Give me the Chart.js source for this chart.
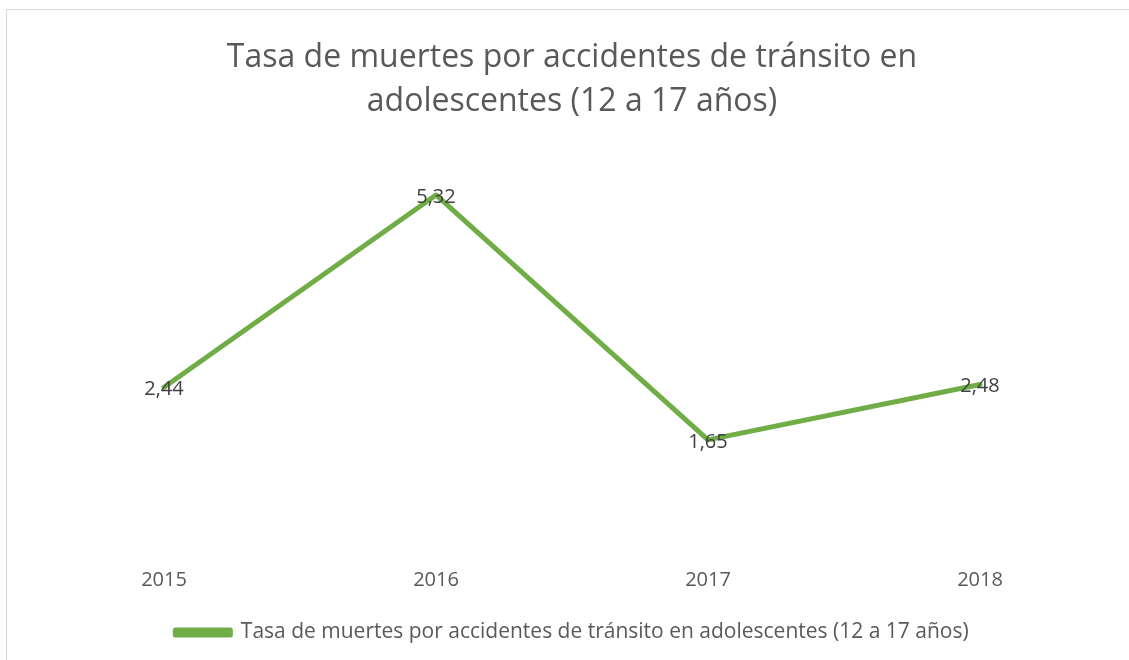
<!DOCTYPE html>
<html>
<head>
<meta charset="utf-8">
<script src="https://cdn.jsdelivr.net/npm/chart.js@4/dist/chart.umd.min.js"></script>
<style>
  html, body { margin: 0; padding: 0; background: #fff; }
  #wrap { position: absolute; left: 6px; top: 9px; width: 1123px; height: 651px;
          border-left: 1px solid #d9d9d9; border-top: 1px solid #d9d9d9; box-sizing: border-box; }
  canvas { position: absolute; left: 0; top: 0; }
</style>
</head>
<body>
<div id="wrap"><canvas id="grafik"></canvas></div>
<script>
const years = ["2015", "2016", "2017", "2018"];
const tasa = [2.44, 5.32, 1.65, 2.48];
const serieNombre = "Tasa de muertes por accidentes de tránsito en adolescentes (12 a 17 años)";
const tituloLineas = ["Tasa de muertes por accidentes de tránsito en", "adolescentes (12 a 17 años)"];

const fuente = "'Open Sans', 'Noto Sans', sans-serif";

// etiquetas de valor sobre cada punto (coma decimal)
const etiquetaValor = {
  id: "etiquetaValor",
  afterDatasetsDraw(chart) {
    const ctx = chart.ctx;
    const meta = chart.getDatasetMeta(0);
    ctx.save();
    ctx.font = "20px " + fuente;
    ctx.fillStyle = "#404040";
    ctx.textAlign = "center";
    ctx.textBaseline = "middle";
    meta.data.forEach((pt, i) => {
      const txt = tasa[i].toFixed(2).replace(".", ",");
      ctx.fillText(txt, pt.x, pt.y + 2);
    });
    ctx.restore();
  },
};

const canvas = document.getElementById("grafik");
canvas.width = 1122;
canvas.height = 650;

new Chart(canvas.getContext("2d"), {
  type: "line",
  data: {
    labels: years,
    datasets: [{
      label: serieNombre,
      data: tasa,
      borderColor: "#70ad47",
      backgroundColor: "#70ad47",
      borderWidth: 5,
      pointRadius: 0,
      tension: 0,
      borderCapStyle: "round",
      borderJoinStyle: "round",
    }],
  },
  options: {
    responsive: false,
    animation: false,
    layout: { padding: { left: 21, right: 13, top: 0, bottom: 7 } },
    plugins: {
      title: {
        display: true,
        text: tituloLineas,
        color: "#595959",
        font: { family: fuente, size: 32, weight: "normal", lineHeight: 1.4 },
        padding: { top: 25, bottom: 25 },
      },
      legend: {
        position: "bottom",
        labels: {
          color: "#595959",
          font: { family: fuente, size: 21 },
          boxWidth: 55,
          boxHeight: 5,
          padding: 20,
        },
      },
      tooltip: { enabled: false },
    },
    scales: {
      x: {
        offset: true,
        grid: { display: false },
        border: { display: false },
        ticks: { color: "#595959", font: { family: fuente, size: 20 }, padding: 10 },
      },
      y: {
        display: false,
        min: 0,
        max: 6,
      },
    },
  },
  plugins: [etiquetaValor],
});
</script>
</body>
</html>
